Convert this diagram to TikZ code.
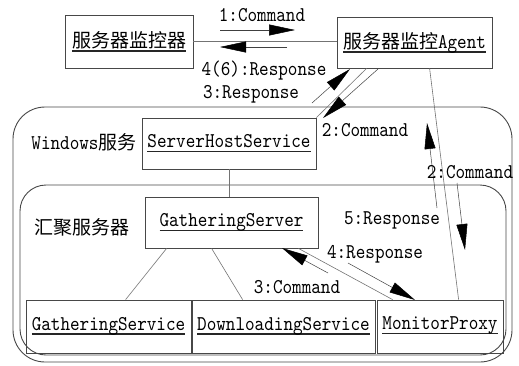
\documentclass[tikz,border=0pt]{standalone}
\usepackage{fontspec}
\usetikzlibrary{arrows.meta}
\newfontfamily\latf[FakeStretch=0.87]{lmmono10-regular.otf}
\newfontfamily\cjkf{Noto Sans CJK SC}
\newcommand\ulbox[1]{\setbox0\hbox{#1}\rlap{\color{black!85}\rule[-4.5pt]{\wd0}{1.4pt}}\box0}
\tikzset{
  txt/.style={font=\fontsize{21}{21}\selectfont\latf},
  box/.style={draw=black!72, line width=0.8pt, inner sep=0pt, rectangle, txt},
  grp/.style={draw=black!72, line width=0.9pt, inner sep=0pt, rectangle},
  conn/.style={draw=black!55, line width=0.6pt},
  msg/.style={draw=black!75, line width=0.5pt, -{Triangle[length=26pt,width=11pt,color=black,fill=black]}},
  lbl/.style={txt, inner sep=0pt, text height=14pt, text depth=1pt}
}
\newcommand\cj[1]{{\fontsize{19}{19}\selectfont\cjkf #1}}
\begin{document}
\begin{tikzpicture}[x=1pt,y=-1pt]
\useasboundingbox (0,0) rectangle (519,365);
% group containers
\node[grp, rounded corners=32pt, minimum width=499pt, minimum height=255pt] (winsvc) at (262.5,234.5) {};
\node[grp, rounded corners=26pt, minimum width=486pt, minimum height=170pt] (aggsvc) at (263,270) {};
% boxes
\node[box, minimum width=128pt, minimum height=53pt] (mon) at (129,41.5) {\ulbox{\cj{服务器监控器}}};
\node[box, minimum width=155pt, minimum height=51pt] (agent) at (414.5,42.5) {\ulbox{\cj{服务器监控}Agent}};
\node[box, minimum width=174pt, minimum height=51pt, fill=white] (shs) at (229,143.5) {\ulbox{ServerHostService}};
\node[box, minimum width=173pt, minimum height=51pt, fill=white] (gat) at (231.5,222.5) {\raisebox{5pt}{\ulbox{GatheringServer}}};
\node[box, minimum width=165pt, minimum height=53pt] (gs) at (108.5,326.5) {\raisebox{6pt}{\ulbox{GatheringService}}};
\node[box, minimum width=183pt, minimum height=53pt] (ds) at (283.5,326.5) {\raisebox{6pt}{\ulbox{DownloadingService}}};
\node[box, minimum width=126pt, minimum height=53pt] (mp) at (440,326.5) {\raisebox{6pt}{\ulbox{MonitorProxy}}};
% group labels
\node[lbl] (winlbl) at (84,143) {Windows\cj{服务}};
\node[lbl] (agglbl) at (82,228) {\cj{汇聚服务器}};
% connectors
\draw[conn] (mon.east) -- (mon.east -| agent.west);
\draw[conn] ([xshift=30pt]agent.south west) -- (shs.north east);
\draw[conn] ([xshift=93pt]agent.south west) -- ([xshift=82pt]mp.north west);
\draw[conn] (shs.south) -- (shs.south |- gat.north);
\draw[conn] ([xshift=-20pt]gat.south east) -- ([xshift=16pt]mp.north west);
\draw[conn] ([xshift=22pt]gat.south west) -- ([xshift=100pt]gs.north west);
\draw[conn] ([xshift=67pt]gat.south west) -- ([xshift=51pt]ds.north west);
% message arrow end points
\coordinate (a1s) at (220,30);  \coordinate (a1e) at (295,30);
\coordinate (a2s) at (287,47);  \coordinate (a2e) at (220,47);
\coordinate (a3s) at (312,103); \coordinate (a3e) at (350,69);
\coordinate (a4s) at (378,69);  \coordinate (a4e) at (323,118);
\coordinate (a5s) at (437,208); \coordinate (a5e) at (427,123);
\coordinate (a6s) at (457,183); \coordinate (a6e) at (465,250);
\coordinate (a7s) at (328,273); \coordinate (a7e) at (282,248);
\coordinate (a8s) at (348,263); \coordinate (a8e) at (415,300);
\draw[msg] (a1s) -- (a1e);
\draw[msg] (a2s) -- (a2e);
\draw[msg] (a3s) -- (a3e);
\draw[msg] (a4s) -- (a4e);
\draw[msg] (a5s) -- (a5e);
\draw[msg] (a6s) -- (a6e);
\draw[msg] (a7s) -- (a7e);
\draw[msg] (a8s) -- (a8e);
% message labels
\node[lbl] (l1) at (262,15) {1:Command};
\node[lbl] (l2) at (264,69) {4(6):Response};
\node[lbl] (l3) at (251,92) {3:Response};
\node[lbl] (l4) at (365,130) {2:Command};
\node[lbl] (l5) at (470,172) {2:Command};
\node[lbl] (l6) at (392,218) {5:Response};
\node[lbl] (l7) at (375,252) {4:Response};
\node[lbl] (l8) at (297,287) {3:Command};
\end{tikzpicture}
\end{document}
